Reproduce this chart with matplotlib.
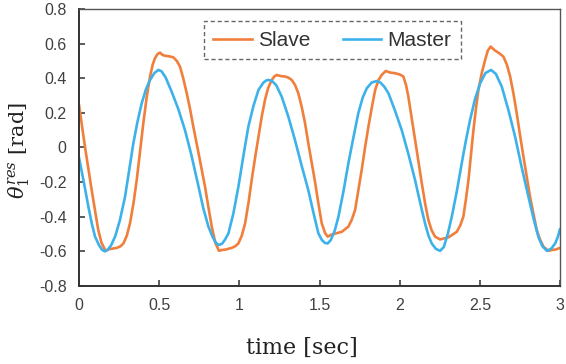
import numpy as np
import matplotlib.pyplot as plt

# master trajectory (time [s], angle [rad])
t_master = [0.0, 0.03, 0.058, 0.08, 0.1, 0.125, 0.145, 0.162, 0.18, 0.2,
            0.225, 0.255, 0.287, 0.313, 0.339, 0.365, 0.391, 0.417, 0.443, 0.47,
            0.495, 0.515, 0.54, 0.578, 0.62, 0.661, 0.7, 0.744, 0.775, 0.807,
            0.835, 0.855, 0.873, 0.893, 0.912, 0.932, 0.963, 0.994, 1.025, 1.056,
            1.088, 1.119, 1.15, 1.17, 1.185, 1.205, 1.23, 1.264, 1.305, 1.347,
            1.39, 1.43, 1.463, 1.493, 1.515, 1.535, 1.551, 1.57, 1.595, 1.618,
            1.65, 1.68, 1.712, 1.742, 1.77, 1.795, 1.825, 1.857, 1.88, 1.905,
            1.93, 1.97, 2.013, 2.055, 2.096, 2.128, 2.158, 2.18, 2.2, 2.225,
            2.252, 2.275, 2.3, 2.325, 2.357, 2.387, 2.413, 2.439, 2.47, 2.502,
            2.535, 2.57, 2.6, 2.637, 2.68, 2.72, 2.76, 2.803, 2.835, 2.865,
            2.89, 2.918, 2.945, 2.97, 2.985, 3.0]
v_master = [-0.06, -0.2, -0.34, -0.44, -0.515, -0.565, -0.592, -0.6, -0.59, -0.565,
            -0.515, -0.42, -0.285, -0.13, 0.025, 0.15, 0.255, 0.335, 0.39, 0.43,
            0.448, 0.44, 0.405, 0.322, 0.22, 0.10, -0.04, -0.22, -0.35, -0.457,
            -0.52, -0.552, -0.563, -0.555, -0.53, -0.496, -0.38, -0.227, -0.05, 0.12,
            0.24, 0.332, 0.375, 0.388, 0.39, 0.383, 0.36, 0.294, 0.18, 0.043,
            -0.11, -0.246, -0.38, -0.496, -0.535, -0.552, -0.554, -0.535, -0.48, -0.4,
            -0.25, -0.091, 0.06, 0.198, 0.29, 0.342, 0.375, 0.384, 0.375, 0.35,
            0.313, 0.215, 0.10, -0.04, -0.188, -0.32, -0.438, -0.51, -0.554, -0.585,
            -0.597, -0.575, -0.5, -0.4, -0.25, -0.091, 0.04, 0.159, 0.28, 0.371,
            0.43, 0.448, 0.425, 0.351, 0.21, 0.062, -0.11, -0.284, -0.41, -0.516,
            -0.57, -0.597, -0.585, -0.554, -0.52, -0.473]

# slave trajectory
t_slave = [0.0, 0.037, 0.079, 0.12, 0.14, 0.166, 0.185, 0.204, 0.235, 0.26,
           0.277, 0.298, 0.318, 0.34, 0.36, 0.38, 0.401, 0.422, 0.443, 0.46,
           0.474, 0.49, 0.505, 0.52, 0.536, 0.56, 0.588, 0.61, 0.63, 0.65,
           0.672, 0.693, 0.713, 0.745, 0.786, 0.808, 0.828, 0.85, 0.873, 0.89,
           0.911, 0.952, 0.975, 0.994, 1.015, 1.036, 1.057, 1.077, 1.098, 1.119,
           1.14, 1.16, 1.18, 1.202, 1.22, 1.233, 1.26, 1.285, 1.307, 1.327,
           1.348, 1.368, 1.39, 1.41, 1.431, 1.452, 1.472, 1.493, 1.514, 1.535,
           1.551, 1.57, 1.587, 1.639, 1.68, 1.7, 1.722, 1.742, 1.763, 1.784,
           1.805, 1.826, 1.847, 1.868, 1.888, 1.913, 1.94, 1.971, 2.0, 2.023,
           2.04, 2.054, 2.075, 2.096, 2.117, 2.138, 2.158, 2.179, 2.2, 2.221,
           2.252, 2.304, 2.356, 2.378, 2.397, 2.413, 2.429, 2.445, 2.46, 2.475,
           2.491, 2.512, 2.533, 2.55, 2.568, 2.58, 2.595, 2.62, 2.647, 2.668,
           2.689, 2.71, 2.73, 2.751, 2.772, 2.793, 2.813, 2.835, 2.855, 2.877,
           2.897, 2.928, 2.95, 2.97, 3.0]
v_slave = [0.246, 0.005, -0.246, -0.477, -0.55, -0.597, -0.588, -0.585, -0.58, -0.57,
           -0.554, -0.51, -0.438, -0.32, -0.188, -0.03, 0.14, 0.29, 0.41, 0.48,
           0.516, 0.54, 0.548, 0.535, 0.53, 0.527, 0.521, 0.5, 0.467, 0.4,
           0.313, 0.22, 0.12, -0.03, -0.227, -0.35, -0.457, -0.55, -0.597, -0.592,
           -0.59, -0.58, -0.57, -0.554, -0.51, -0.438, -0.32, -0.188, -0.06, 0.062,
           0.18, 0.275, 0.345, 0.39, 0.412, 0.419, 0.412, 0.41, 0.403, 0.39,
           0.36, 0.313, 0.23, 0.14, 0.02, -0.091, -0.198, -0.323, -0.438, -0.495,
           -0.515, -0.505, -0.5, -0.487, -0.457, -0.42, -0.361, -0.25, -0.13, 0.0,
           0.12, 0.23, 0.332, 0.39, 0.419, 0.442, 0.433, 0.429, 0.422, 0.41,
           0.36, 0.294, 0.17, 0.043, -0.08, -0.207, -0.32, -0.419, -0.48, -0.515,
           -0.531, -0.519, -0.487, -0.45, -0.4, -0.3, -0.188, -0.04, 0.10, 0.22,
           0.332, 0.43, 0.506, 0.56, 0.583, 0.572, 0.56, 0.545, 0.525, 0.48,
           0.41, 0.31, 0.198, 0.07, -0.053, -0.17, -0.284, -0.385, -0.477, -0.535,
           -0.573, -0.597, -0.592, -0.59, -0.58]

x_ticks = [0, 0.5, 1, 1.5, 2, 2.5, 3]
x_ticklabels = ['0', '0.5', '1', '1.5', '2', '2.5', '3']
y_ticks = [-0.8, -0.6, -0.4, -0.2, 0, 0.2, 0.4, 0.6, 0.8]
y_ticklabels = ['-0.8', '-0.6', '-0.4', '-0.2', '0', '0.2', '0.4', '0.6', '0.8']

plt.rcParams['font.family'] = ['Liberation Sans', 'DejaVu Sans']
plt.rcParams['mathtext.fontset'] = 'dejavuserif'
plt.rcParams['axes.unicode_minus'] = False

fig = plt.figure(figsize=(5.66, 3.64), dpi=100)
ax = fig.add_axes([0.1396, 0.2143, 0.8498, 0.761])

ax.plot(t_slave, v_slave, color='#F07F3C', lw=1.9, label='Slave')
ax.plot(t_master, v_master, color='#3DB2EA', lw=1.9, label='Master')

ax.set_xlim(0, 3)
ax.set_ylim(-0.8, 0.8)
ax.set_xticks(x_ticks)
ax.set_xticklabels(x_ticklabels)
ax.set_yticks(y_ticks)
ax.set_yticklabels(y_ticklabels)
ax.tick_params(direction='in', length=4, width=1.2, colors='#404040',
               labelsize=11.5, pad=9)
ax.tick_params(axis='x', pad=9)

for s in ['left', 'bottom']:
    ax.spines[s].set_color('#333333')
    ax.spines[s].set_linewidth(1.4)
for s in ['top', 'right']:
    ax.spines[s].set_color('#555555')
    ax.spines[s].set_linewidth(1.0)

ax.set_xlabel('time [sec]', family='DejaVu Serif', fontsize=16,
              color='#222222')
ax.xaxis.set_label_coords(0.464, -0.184)
ax.set_ylabel(r'$\theta_1^{res}$ [rad]', family='DejaVu Serif', fontsize=15,
              color='#222222')
ax.yaxis.set_label_coords(-0.098, 0.49)

leg = ax.legend(loc='upper center', bbox_to_anchor=(0.527, 0.955), ncol=2,
                fontsize=15, frameon=True, fancybox=False, handlelength=1.83,
                columnspacing=1.55, borderpad=0.45, handletextpad=0.32,
                borderaxespad=0)
frame = leg.get_frame()
frame.set_edgecolor('#404040')
frame.set_linestyle((0, (3, 2)))
frame.set_linewidth(1.0)
for txt in leg.get_texts():
    txt.set_color('#333333')

fig.savefig('out.png', dpi=100)
